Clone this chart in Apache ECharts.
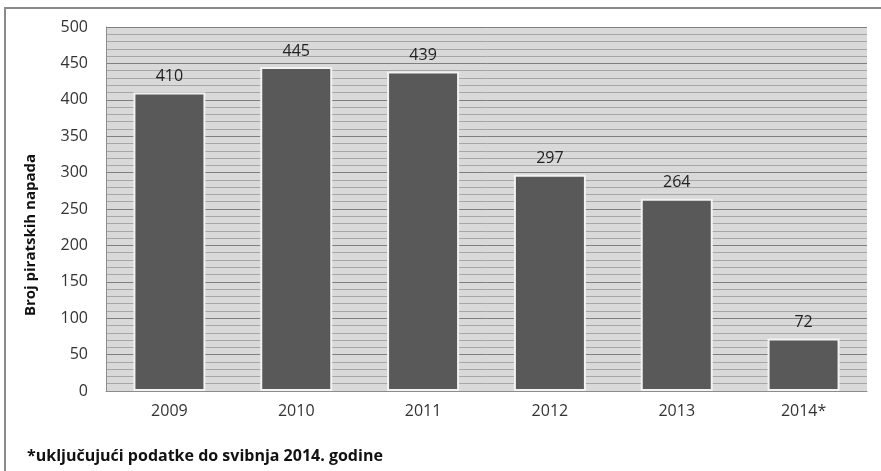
<!DOCTYPE html>
<html>
<head>
<meta charset="utf-8">
<script src="https://cdn.jsdelivr.net/npm/echarts@6/dist/echarts.min.js"></script>
<style>
html,body{margin:0;padding:0;background:#fff;overflow:hidden;}
#frame{position:absolute;left:4px;top:7px;width:900px;height:500px;border-left:2px solid #8a8a8a;border-top:2px solid #8a8a8a;box-sizing:border-box;}
#chart{position:absolute;left:0;top:0;width:881px;height:471px;}
</style>
</head>
<body>
<div id="frame"></div>
<div id="chart"></div>
<script>
const categories = ['2009', '2010', '2011', '2012', '2013', '2014*'];
const values = [410, 445, 439, 297, 264, 72];
const yTitle = 'Broj piratskih napada';
const footnote = '*uključujući podatke do svibnja 2014. godine';

const font = '"Open Sans", "Liberation Sans", sans-serif';
const chart = echarts.init(document.getElementById('chart'), null, {renderer: 'canvas'});
chart.setOption({
  animation: false,
  grid: {left: 106, right: 14, top: 27, bottom: 80, show: true, backgroundColor: '#d9d9d9', borderWidth: 0},
  xAxis: {
    type: 'category', data: categories,
    axisLine: {show: true, lineStyle: {color: '#8c8c8c', width: 1}},
    axisTick: {show: false},
    axisLabel: {color: '#333', fontSize: 16, fontFamily: font, margin: 12}
  },
  yAxis: {
    type: 'value', min: 0, max: 500, interval: 50,
    name: yTitle, nameLocation: 'middle', nameGap: 68, nameRotate: 90,
    nameTextStyle: {fontWeight: 'bold', fontSize: 15, color: '#111', fontFamily: font, padding: [0, 0, 0, -52]},
    axisLine: {show: true, lineStyle: {color: '#8c8c8c', width: 1}},
    axisTick: {show: false},
    axisLabel: {color: '#333', fontSize: 16, fontFamily: font, margin: 18},
    splitLine: {show: true, lineStyle: {color: '#7f7f7f', width: 1}},
    minorTick: {show: false, splitNumber: 5},
    minorSplitLine: {show: true, lineStyle: {color: '#a6a6a6', width: 1}}
  },
  series: [{
    type: 'bar', data: values, barWidth: 72,
    itemStyle: {color: '#595959', borderColor: '#f2f2f2', borderWidth: 2},
    label: {show: true, position: 'top', distance: 8, color: '#222', fontSize: 16, fontFamily: font}
  }],
  graphic: [{
    type: 'text', left: 27, top: 448,
    style: {text: footnote, fill: '#111', font: 'bold 16px ' + font}
  }]
});
</script>
</body>
</html>
